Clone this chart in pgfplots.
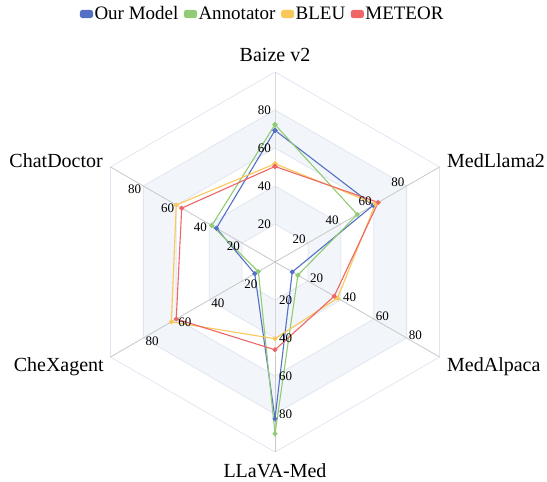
\documentclass[border=0pt]{standalone}
\usepackage{fontspec}
\setmainfont{Liberation Serif}
\usepackage{pgfplots}
\pgfplotsset{compat=1.18}
\usepgfplotslibrary{polar}

\definecolor{cBlue}{HTML}{5470C6}
\definecolor{cGreen}{HTML}{91CC75}
\definecolor{cYellow}{HTML}{FAC858}
\definecolor{cRed}{HTML}{EE6666}
\definecolor{band}{RGB}{242,245,250}
\definecolor{hexline}{HTML}{E0E6F1}
\definecolor{spoke}{RGB}{200,200,200}

\pgfplotsset{
  series/.style={#1, line width=1.1pt, mark=*, mark size=1.9pt,
    mark options={solid, fill=#1}},
}

\begin{document}
\begin{tikzpicture}
\useasboundingbox (-275pt,-220pt) rectangle (272pt,262pt);
\begin{axis}[
  at={(0,0)}, anchor=center,
  x=1.9pt, y=1.9pt,
  xmin=-100, xmax=100, ymin=-100, ymax=100,
  enlargelimits=false,
  axis lines=none, clip=false,
  data cs=polar,
  legend columns=4,
  legend style={at={(0.467,1.1526)}, anchor=center, draw=none, fill=none,
    inner sep=0pt, column sep=0pt,
    font=\fontsize{19}{22}\selectfont,
    nodes={inner sep=1.5pt},
    /tikz/every even column/.append style={column sep=4pt}},
  legend image code/.code={\fill[#1, rounded corners=2pt] (0pt,-3.5pt) rectangle (12pt,3.5pt);},
]
% shaded bands 20-40 and 60-80
\addplot[forget plot, fill=band, draw=none] coordinates {(90,80)(30,80)(-30,80)(-90,80)(210,80)(150,80)} -- cycle;
\addplot[forget plot, fill=white, draw=none] coordinates {(90,60)(30,60)(-30,60)(-90,60)(210,60)(150,60)} -- cycle;
\addplot[forget plot, fill=band, draw=none] coordinates {(90,40)(30,40)(-30,40)(-90,40)(210,40)(150,40)} -- cycle;
\addplot[forget plot, fill=white, draw=none] coordinates {(90,20)(30,20)(-30,20)(-90,20)(210,20)(150,20)} -- cycle;
% hexagon grid
\addplot[forget plot, hexline, line width=0.8pt] coordinates {(90,20)(30,20)(-30,20)(-90,20)(210,20)(150,20)(90,20)};
\addplot[forget plot, hexline, line width=0.8pt] coordinates {(90,40)(30,40)(-30,40)(-90,40)(210,40)(150,40)(90,40)};
\addplot[forget plot, hexline, line width=0.8pt] coordinates {(90,60)(30,60)(-30,60)(-90,60)(210,60)(150,60)(90,60)};
\addplot[forget plot, hexline, line width=0.8pt] coordinates {(90,80)(30,80)(-30,80)(-90,80)(210,80)(150,80)(90,80)};
\addplot[forget plot, hexline, line width=0.8pt] coordinates {(90,100)(30,100)(-30,100)(-90,100)(210,100)(150,100)(90,100)};
% spokes
\addplot[forget plot, spoke, line width=0.8pt] coordinates {(90,100)(0,0)(-90,100)};
\addplot[forget plot, spoke, line width=0.8pt] coordinates {(30,100)(0,0)(210,100)};
\addplot[forget plot, spoke, line width=0.8pt] coordinates {(-30,100)(0,0)(150,100)};

% data: Baize v2, MedLlama2, MedAlpaca, LLaVA-Med, CheXagent, ChatDoctor
\addplot[series=cBlue] coordinates {(90,69.3)(30,59.6)(-30,10.5)(-90,82.5)(210,12.3)(150,35.6)(90,69.3)};
\addlegendentry{Our Model}
\addplot[series=cGreen] coordinates {(90,72.3)(30,50)(-30,13.9)(-90,90.4)(210,10.1)(150,38.4)(90,72.3)};
\addlegendentry{Annotator}
\addplot[series=cYellow] coordinates {(90,51.7)(30,61)(-30,38)(-90,40.4)(210,63)(150,60)(90,51.7)};
\addlegendentry{BLEU}
\addplot[series=cRed] coordinates {(90,50.3)(30,62.7)(-30,36)(-90,46.2)(210,60)(150,56.7)(90,50.3)};
\addlegendentry{METEOR}
\end{axis}

% radial tick labels
\foreach \a/\anc/\dx/\dy in {90/east/-4/0, 30/east/-2/3.5, -30/west/2/3, -90/west/4/0, 210/west/2/-3.5, 150/east/-2/-3}
  \foreach \v in {20,40,60,80}
    \node[anchor=\anc, inner sep=0pt, font=\fontsize{13}{15}\selectfont,
          xshift=\dx pt, yshift=\dy pt] at ({\a}:{\v*1.9pt}) {\v};

% category labels
\begin{scope}[every node/.style={inner sep=0pt, font=\fontsize{20}{24}\selectfont}]
\node[anchor=base] at (0pt,200pt) {Baize v2};
\node[anchor=base west] at (172pt,94pt) {MedLlama2};
\node[anchor=base west] at (172pt,-110pt) {MedAlpaca};
\node[anchor=base] at (0pt,-215pt) {LLaVA-Med};
\node[anchor=base east] at (-171pt,-110pt) {CheXagent};
\node[anchor=base east] at (-172pt,94pt) {ChatDoctor};
\end{scope}
\end{tikzpicture}
\end{document}
